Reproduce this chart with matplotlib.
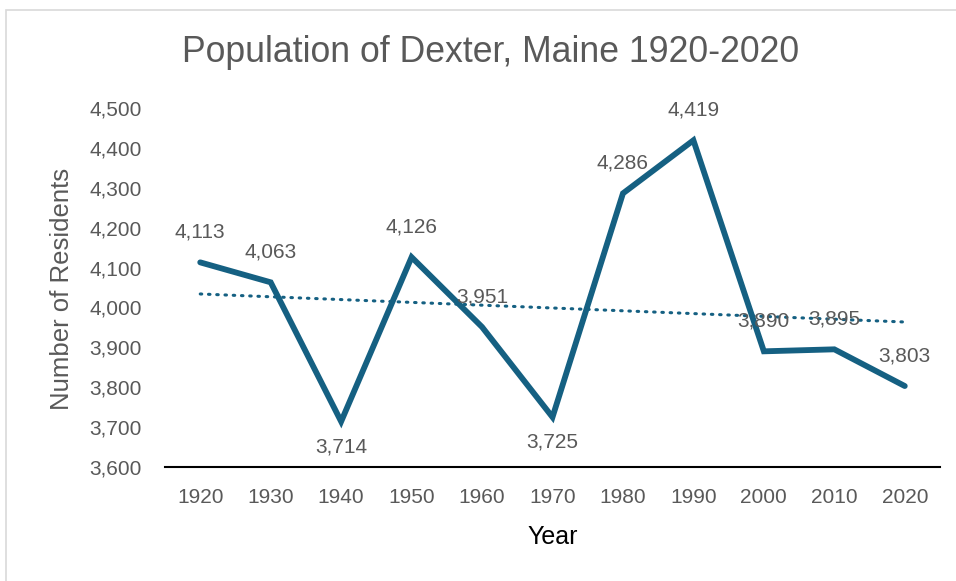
import matplotlib
matplotlib.use("Agg")
import matplotlib.pyplot as plt
import numpy as np
from matplotlib.patches import Rectangle
from matplotlib.ticker import FuncFormatter

years = ["1920", "1930", "1940", "1950", "1960", "1970", "1980", "1990", "2000", "2010", "2020"]
population = [4113, 4063, 3714, 4126, 3951, 3725, 4286, 4419, 3890, 3895, 3803]
label_below = [False, False, True, False, False, True, False, False, False, False, False]

LINE = "#156082"
TEXT = "#595959"
FONT = "Liberation Sans"

fig = plt.figure(figsize=(9.56, 5.81), dpi=100)
fig.patch.set_facecolor("white")
fig.add_artist(Rectangle((6/956, -0.1), 1.0, 1 - 10/581 + 0.1, transform=fig.transFigure,
                         fill=False, edgecolor="#d9d9d9", linewidth=1.2))

ax = fig.add_axes([165/956, 1 - 467/581, (940 - 165)/956, (467 - 108)/581])
x = np.arange(len(years))
ax.plot(x, population, color=LINE, linewidth=4.2, solid_joinstyle="miter", solid_capstyle="round", zorder=3)

# linear trendline
coef = np.polyfit(x, population, 1)
ax.plot(x, np.polyval(coef, x), color=LINE, linewidth=2.2, linestyle=(0, (0.5, 2.2)),
        dash_capstyle="round", zorder=2)

for xi, v, below in zip(x, population, label_below):
    ax.annotate(f"{v:,}", (xi, v), xytext=(0, -25 if below else 30), textcoords="offset pixels",
                ha="center", va="center", fontsize=15, color=TEXT, family=FONT, zorder=4)

ax.set_xlim(-0.5, len(years) - 0.5)
ax.set_ylim(3600, 4500)
ax.set_yticks(np.arange(3600, 4501, 100))
ax.yaxis.set_major_formatter(FuncFormatter(lambda v, p: f"{int(v):,}"))
ax.set_xticks(x)
ax.set_xticklabels(years)
for s in ["top", "right", "left"]:
    ax.spines[s].set_visible(False)
ax.spines["bottom"].set_color("#000000")
ax.spines["bottom"].set_linewidth(1.5)
ax.tick_params(axis="both", length=0, labelsize=15, labelcolor=TEXT)
ax.tick_params(axis="y", pad=16.5)
ax.tick_params(axis="x", pad=15)
for t in ax.get_xticklabels() + ax.get_yticklabels():
    t.set_family(FONT)

fig.text(491/956, 1 - 52/581, "Population of Dexter, Maine 1920-2020", ha="center", va="center",
         fontsize=25.7, color=TEXT, family=FONT)
fig.text(553/956, 1 - 537/581, "Year", ha="center", va="center", fontsize=18, color="#000000", family=FONT)
fig.text(62/956, 1 - 289/581, "Number of Residents", ha="center", va="center", rotation=90,
         fontsize=18.5, color=TEXT, family=FONT)

fig.savefig("out.png", dpi=100)
